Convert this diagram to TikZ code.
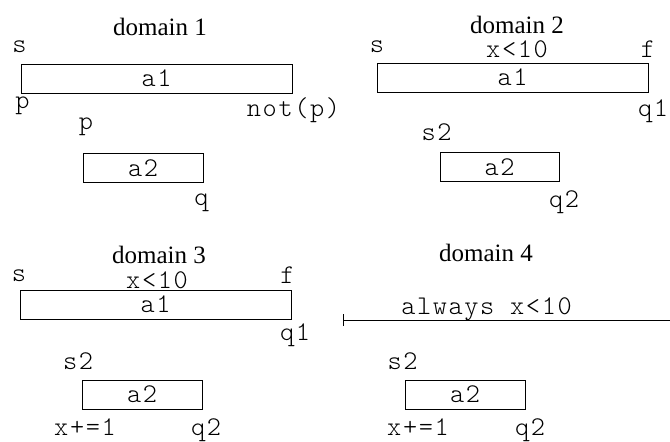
\documentclass[tikz,border=0pt]{standalone}
\usepackage{fontspec}
\setmainfont{Liberation Serif}
\setmonofont{lmmonolt10-regular.otf}[LetterSpace=6]
\usetikzlibrary{arrows.meta}

\tikzset{
  act/.style={draw, line width=1pt, inner sep=0pt, minimum height=29pt,
    font=\fontsize{27}{30}\selectfont\ttfamily},
  lbl/.style={inner sep=0pt, anchor=base, font=\fontsize{27}{30}\selectfont\ttfamily},
  ttl/.style={inner sep=0pt, anchor=base, font=\fontsize{25}{30}\selectfont\rmfamily}
}

\begin{document}
\begin{tikzpicture}[x=1pt, y=-1pt]
        \useasboundingbox (0,0) rectangle (670,442);

        % domain 1
        \node[ttl] (t1) at (160,35) {domain 1};
        \node[act, minimum width=271pt] (d1a1) at (156.5,78.5) {a1};
        \node[lbl] (d1s) at (19.5,52) {s};
        \node[lbl] (d1p) at (22.5,108) {p};
        \node[lbl] (d1np) at (293.5,116) {not(p)};
        \node[act, minimum width=120pt] (d1a2) at (143,168) {a2};
        \node[lbl] (d1p2) at (86,129) {p};
        \node[lbl] (d1q) at (201.5,205.5) {q};

        % domain 2
        \node[ttl] (t2) at (517,33) {domain 2};
        \node[act, minimum width=271pt] (d2a1) at (512.5,77.5) {a1};
        \node[lbl] (d2s) at (377,52) {s};
        \node[lbl] (d2c) at (517,57) {x<10};
        \node[lbl] (d2f) at (648,57) {f};
        \node[lbl] (d2q1) at (653,116) {q1};
        \node[act, minimum width=119pt] (d2a2) at (499.5,167) {a2};
        \node[lbl] (d2s2) at (436.5,140) {s2};
        \node[lbl] (d2q2) at (564,207) {q2};

        % domain 3
        \node[ttl] (t3) at (159,263) {domain 3};
        \node[act, minimum width=271pt] (d3a1) at (155.5,304.5) {a1};
        \node[lbl] (d3s) at (19,281) {s};
        \node[lbl] (d3c) at (157,288) {x<10};
        \node[lbl] (d3f) at (287.5,283) {f};
        \node[lbl] (d3q1) at (295,340) {q1};
        \node[act, minimum width=120pt] (d3a2) at (142,394.5) {a2};
        \node[lbl] (d3s2) at (78,369) {s2};
        \node[lbl] (d3x) at (85,435) {x+=1};
        \node[lbl] (d3q2) at (206,435) {q2};

        % domain 4
        \node[ttl] (t4) at (486,261) {domain 4};
        \coordinate (d4l) at (343,320);
        \coordinate (d4r) at (670,320);
        \draw[line width=1pt, {Bar[width=12pt]}-] (d4l) -- (d4r);
        \node[lbl] (d4c) at (486.5,314) {always x<10};
        \node[act, minimum width=120pt] (d4a2) at (465,394.5) {a2};
        \node[lbl] (d4s2) at (402.5,369) {s2};
        \node[lbl] (d4x) at (418,435) {x+=1};
        \node[lbl] (d4q2) at (530,435) {q2};
\end{tikzpicture}
\end{document}
